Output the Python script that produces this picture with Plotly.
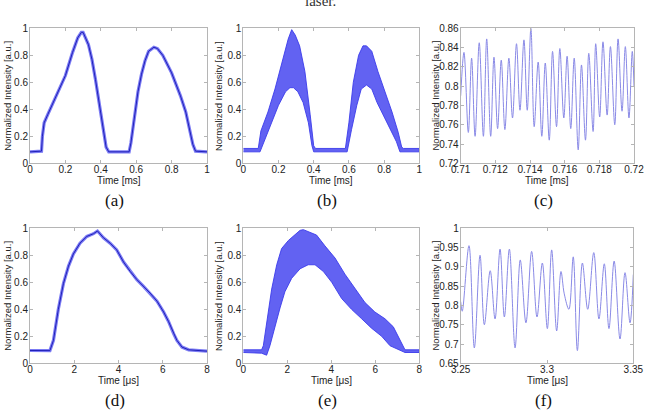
import plotly.graph_objects as go

# ---------------- data ----------------
# (a) mean trace, time [ms]
a_t = [0, 0.06, 0.065, 0.07, 0.075, 0.08, 0.10, 0.15, 0.20, 0.24, 0.27, 0.29, 0.30, 0.33, 0.35, 0.37,
       0.39, 0.41, 0.43, 0.445, 0.56, 0.57, 0.59, 0.61, 0.63, 0.65, 0.67, 0.70, 0.72, 0.75, 0.80, 0.85,
       0.88, 0.90, 0.92, 0.935, 1.0]
a_v = [0.085, 0.085, 0.09, 0.2, 0.27, 0.30, 0.36, 0.50, 0.65, 0.82, 0.93, 0.97, 0.97, 0.88, 0.77, 0.62,
       0.45, 0.27, 0.12, 0.085, 0.085, 0.15, 0.35, 0.53, 0.66, 0.76, 0.83, 0.86, 0.85, 0.80, 0.67, 0.50,
       0.38, 0.26, 0.14, 0.09, 0.085]

# (b) envelopes, time [ms]
b_up_t = [0, 0.085, 0.10, 0.14, 0.18, 0.22, 0.255, 0.275, 0.295, 0.32, 0.35, 0.38, 0.40, 0.41, 0.58, 0.60,
          0.625, 0.655, 0.68, 0.70, 0.73, 0.765, 0.805, 0.845, 0.88, 0.90, 0.91, 1.0]
b_up_v = [0.11, 0.11, 0.24, 0.38, 0.55, 0.75, 0.92, 0.99, 0.95, 0.87, 0.68, 0.36, 0.13, 0.11, 0.11, 0.30,
          0.60, 0.80, 0.87, 0.87, 0.83, 0.68, 0.53, 0.38, 0.23, 0.12, 0.11, 0.11]
b_lo_t = [0, 0.095, 0.12, 0.16, 0.20, 0.24, 0.265, 0.285, 0.31, 0.34, 0.37, 0.39, 0.40, 0.59, 0.615, 0.645,
          0.67, 0.70, 0.73, 0.76, 0.795, 0.835, 0.87, 0.89, 1.0]
b_lo_v = [0.085, 0.085, 0.18, 0.30, 0.43, 0.53, 0.56, 0.56, 0.53, 0.45, 0.30, 0.13, 0.085, 0.085, 0.25, 0.43,
          0.55, 0.58, 0.55, 0.45, 0.35, 0.25, 0.16, 0.085, 0.085]

# (c) zoomed oscillation, time [ms]
c_t = [0.71, 0.71019, 0.71044, 0.71063, 0.71083, 0.71107, 0.71131, 0.71150, 0.71173, 0.71192, 0.71213,
       0.71234, 0.71255, 0.71278, 0.71299, 0.71322, 0.71342, 0.71365, 0.71384, 0.71405, 0.71424, 0.71447,
       0.71468, 0.71488, 0.71511, 0.71530, 0.71553, 0.71572, 0.71595, 0.71614, 0.71635, 0.71655, 0.71678,
       0.71697, 0.71720, 0.71739, 0.71764, 0.71779, 0.71802, 0.71821, 0.71845, 0.71864, 0.71889, 0.71908,
       0.71931, 0.71950, 0.71971, 0.71990, 0.72]
c_v = [0.79, 0.835, 0.752, 0.829, 0.748, 0.845, 0.748, 0.849, 0.748, 0.830, 0.756,
       0.827, 0.755, 0.829, 0.767, 0.844, 0.775, 0.848, 0.775, 0.860, 0.758, 0.825,
       0.748, 0.824, 0.744, 0.836, 0.758, 0.839, 0.767, 0.831, 0.756, 0.829, 0.734,
       0.822, 0.744, 0.834, 0.753, 0.844, 0.768, 0.846, 0.770, 0.841, 0.760, 0.849,
       0.774, 0.841, 0.767, 0.836, 0.80]

# (d) mean trace, time [us]
d_t = [0, 0.9, 1.06, 1.28, 1.51, 1.74, 1.96, 2.26, 2.57, 2.87, 3.05, 3.32, 3.62, 3.92, 4.23, 4.53, 4.83,
       5.13, 5.43, 5.74, 6.04, 6.26, 6.49, 6.64, 6.87, 7.17, 8.0]
d_v = [0.095, 0.094, 0.17, 0.40, 0.59, 0.72, 0.81, 0.89, 0.94, 0.96, 0.98, 0.93, 0.89, 0.84, 0.75, 0.68, 0.62,
       0.57, 0.52, 0.46, 0.38, 0.31, 0.22, 0.17, 0.12, 0.10, 0.09]

# (e) envelopes, time [us]
e_up_t = [0, 0.83, 0.91, 1.06, 1.29, 1.52, 1.74, 2.05, 2.35, 2.58, 2.73, 3.03, 3.33, 3.71, 4.17, 4.62, 5.08,
          5.53, 5.98, 6.44, 6.82, 7.12, 7.35, 8.0]
e_up_v = [0.10, 0.10, 0.13, 0.30, 0.55, 0.73, 0.85, 0.91, 0.95, 0.985, 0.99, 0.97, 0.95, 0.87, 0.78, 0.66, 0.55,
          0.45, 0.38, 0.33, 0.27, 0.18, 0.10, 0.10]
e_lo_t = [0, 0.83, 1.06, 1.21, 1.44, 1.67, 1.89, 2.20, 2.58, 2.95, 3.26, 3.64, 4.02, 4.47, 4.92, 5.38, 5.83,
          6.29, 6.67, 7.05, 7.35, 8.0]
e_lo_v = [0.08, 0.075, 0.06, 0.13, 0.26, 0.41, 0.53, 0.63, 0.70, 0.73, 0.73, 0.68, 0.60, 0.48, 0.40, 0.33, 0.26,
          0.20, 0.13, 0.10, 0.08, 0.08]

# (f) zoomed oscillation, time [us]
f_t = [3.25, 3.2509, 3.2548, 3.2579, 3.2612, 3.2637, 3.2671, 3.2699, 3.2728, 3.2753, 3.2782, 3.2815, 3.2845,
       3.2878, 3.2911, 3.2942, 3.2973, 3.3002, 3.3027, 3.3056, 3.3081, 3.3100, 3.3127, 3.3152, 3.3176, 3.3205,
       3.3236, 3.3271, 3.3301, 3.3332, 3.3359, 3.3389, 3.3423, 3.3452, 3.3481, 3.35]
f_v = [0.81, 0.785, 0.955, 0.69, 0.93, 0.75, 0.89, 0.765, 0.946, 0.77, 0.946, 0.69, 0.918,
       0.755, 0.94, 0.77, 0.91, 0.74, 0.944, 0.734, 0.888, 0.83, 0.79, 0.926, 0.683, 0.91,
       0.79, 0.937, 0.765, 0.908, 0.74, 0.915, 0.713, 0.885, 0.755, 0.88]

x_titles = ["Time [ms]", "Time [ms]", "Time [ms]", "Time [\u03bcs]", "Time [\u03bcs]", "Time [\u03bcs]"]
y_title = "Normalized Intensity [a.u.]"
captions = ["(a)", "(b)", "(c)", "(d)", "(e)", "(f)"]

# ---------------- figure ----------------
W, H = 648, 414
fig = go.Figure()

thick = dict(color="rgba(80,80,240,0.75)", width=3.2)
band_fill = "rgba(70,70,240,0.85)"
thin = dict(color="#8a8ae6", width=1)

fig.add_trace(go.Scatter(x=a_t, y=a_v, mode="lines", line=thick, xaxis="x", yaxis="y"))
fig.add_trace(go.Scatter(x=a_t, y=a_v, mode="lines", line=dict(color="#2020b8", width=1), xaxis="x", yaxis="y"))
fig.add_trace(go.Scatter(x=b_up_t + b_lo_t[::-1], y=b_up_v + b_lo_v[::-1], mode="lines", fill="toself",
                         fillcolor=band_fill, line=dict(color="rgba(60,60,235,0.9)", width=1),
                         xaxis="x2", yaxis="y2"))
fig.add_trace(go.Scatter(x=c_t, y=c_v, mode="lines", line=thin, line_shape="spline", xaxis="x3", yaxis="y3"))
fig.add_trace(go.Scatter(x=d_t, y=d_v, mode="lines", line=thick, xaxis="x4", yaxis="y4"))
fig.add_trace(go.Scatter(x=d_t, y=d_v, mode="lines", line=dict(color="#2020b8", width=1), xaxis="x4", yaxis="y4"))
fig.add_trace(go.Scatter(x=e_up_t + e_lo_t[::-1], y=e_up_v + e_lo_v[::-1], mode="lines", fill="toself",
                         fillcolor=band_fill, line=dict(color="rgba(60,60,235,0.9)", width=1),
                         xaxis="x5", yaxis="y5"))
fig.add_trace(go.Scatter(x=f_t, y=f_v, mode="lines", line=thin, line_shape="spline", xaxis="x6", yaxis="y6"))

# pixel geometry of the six plot boxes (left, right, top, bottom)
boxes = [(30, 207, 28.3, 163.3), (243.3, 419.3, 28.3, 163.3), (460.7, 634.0, 28.3, 163.3),
         (30, 207, 228.3, 363.3), (243.3, 419.3, 228.3, 363.3), (460.7, 633.3, 228.3, 363.3)]
x_ranges = [(0, 1, 0.2), (0, 1, 0.2), (0.71, 0.72, 0.002), (0, 8, 2), (0, 8, 2), (3.25, 3.35, 0.05)]
y_ranges = [(0, 1, 0.2), (0, 1, 0.2), (0.72, 0.86, 0.02), (0, 1, 0.2), (0, 1, 0.2), (0.65, 1, 0.05)]

tickfont = dict(family="Liberation Sans, Arial, sans-serif", size=10, color="#222")
axis_common = dict(showline=True, linecolor="#b5b5b5", linewidth=1, mirror="ticks", ticks="inside",
                   ticklen=3, tickcolor="#b5b5b5", showgrid=False, zeroline=False, tickfont=tickfont,
                   automargin=False)

layout = dict(template="none", width=W, height=H, margin=dict(l=0, r=0, t=0, b=0, pad=0), showlegend=False,
              paper_bgcolor="white", plot_bgcolor="white")
annotations = []
for i, (l, r, t, b) in enumerate(boxes):
    n = "" if i == 0 else str(i + 1)
    x0, x1, dx = x_ranges[i]
    y0, y1, dy = y_ranges[i]
    layout["xaxis" + n] = dict(domain=[l / W, r / W], range=[x0, x1], tick0=x0, dtick=dx,
                               anchor="y" + n, ticklabelstandoff=-3, **axis_common)
    layout["yaxis" + n] = dict(domain=[1 - b / H, 1 - t / H], range=[y0, y1], tick0=y0, dtick=dy,
                               anchor="x" + n, ticklabelstandoff=-1, **axis_common)
    cx = (l + r) / 2
    # x title
    annotations.append(dict(text=x_titles[i], x=cx / W, y=1 - (b + 17.5) / H, xref="paper", yref="paper",
                            showarrow=False, xanchor="center", yanchor="middle",
                            font=dict(family="Liberation Sans, Arial, sans-serif", size=10, color="#222")))
    # y title
    yt_x = l - 22 if i in (0, 3) else l - 25
    annotations.append(dict(text=y_title, x=yt_x / W, y=1 - (t + b) / 2 / H, xref="paper", yref="paper",
                            showarrow=False, textangle=-90, xanchor="center", yanchor="middle",
                            font=dict(family="Liberation Sans, Arial, sans-serif", size=9.5, color="#222")))
    # caption
    annotations.append(dict(text=captions[i], x=(cx - 4) / W, y=1 - (b + 37.5) / H, xref="paper", yref="paper",
                            showarrow=False, xanchor="center", yanchor="middle",
                            font=dict(family="Liberation Serif, Times New Roman, serif", size=17, color="#111")))

annotations.append(dict(text="laser.", x=320 / W, y=1 - 11 / H, xref="paper", yref="paper", showarrow=False,
                        xanchor="center", yanchor="bottom",
                        font=dict(family="Liberation Serif, Times New Roman, serif", size=15, color="#333")))
layout["annotations"] = annotations
fig.update_layout(**layout)

fig.write_html("out.html", config={"displayModeBar": False},
               post_script="document.body.style.margin='0';")
